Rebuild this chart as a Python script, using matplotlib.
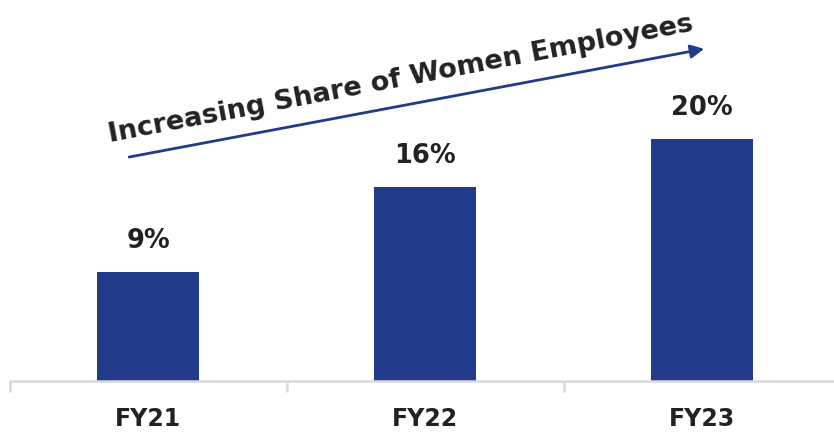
import matplotlib
matplotlib.use("Agg")
import matplotlib.pyplot as plt

categories = ["FY21", "FY22", "FY23"]
share_pct = [9, 16, 20]
value_labels = ["9%", "16%", "20%"]

BAR = "#213b8a"
TXT = "#222222"
AXIS = "#d9d9d9"

plt.rcParams["font.family"] = ["DejaVu Sans"]

W, H = 834, 438
fig = plt.figure(figsize=(W / 100, H / 100), dpi=100)
# baseline at y=381px, 12.1 px per percent point, categories 277px apart
ax = fig.add_axes([9.5 / W, 57 / H, 831 / W, 363 / H])

x = range(len(categories))
ax.bar(x, share_pct, width=0.368, color=BAR, zorder=2)
for xi, v, lab in zip(x, share_pct, value_labels):
    ax.text(xi, v + 1.5, lab, ha="center", va="bottom",
            fontsize=18.5, fontweight="bold", color=TXT)

ax.set_xlim(-0.5, 2.5)
ax.set_ylim(0, 30)
ax.set_yticks([])
for s in ("top", "right", "left"):
    ax.spines[s].set_visible(False)
ax.spines["bottom"].set_color(AXIS)
ax.spines["bottom"].set_linewidth(1.8)

ax.set_xticks([-0.5, 0.5, 1.5, 2.5])
ax.set_xticklabels([])
ax.tick_params(axis="x", which="major", length=8, width=1.8, color=AXIS)
ax.set_xticks(list(x), minor=True)
ax.set_xticklabels(categories, minor=True, fontsize=17, fontweight="bold", color=TXT)
ax.tick_params(axis="x", which="minor", length=0, pad=19)

# trend arrow with rotated caption
ax.annotate("", xy=(0.836, 0.915), xytext=(0.144, 0.617),
            xycoords="axes fraction",
            arrowprops=dict(arrowstyle="-|>", color=BAR, lw=2, mutation_scale=20,
                            shrinkA=0, shrinkB=0))
ax.text(0.472, 0.813, "Increasing Share of Women Employees", transform=ax.transAxes,
        rotation=10.8, ha="center", va="baseline", fontsize=19.5, fontweight="bold",
        color=TXT, rotation_mode="anchor")

fig.savefig("out.png", dpi=100)
